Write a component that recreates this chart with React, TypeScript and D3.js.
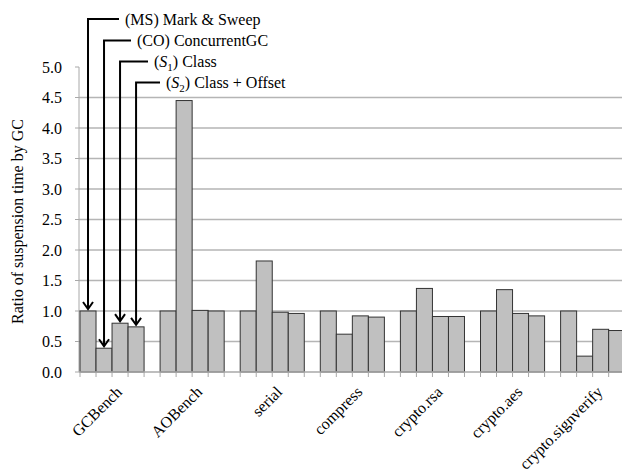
import React from "react";
import * as d3 from "d3";

const categories = ["GCBench", "AOBench", "serial", "compress", "crypto.rsa", "crypto.aes", "crypto.signverify"];
const seriesNames = ["MS", "CO", "S1", "S2"];
const valuesMS = [1.0, 1.0, 1.0, 1.0, 1.0, 1.0, 1.0];
const valuesCO = [0.39, 4.45, 1.82, 0.62, 1.37, 1.35, 0.26];
const valuesS1 = [0.80, 1.01, 0.98, 0.92, 0.91, 0.96, 0.70];
const valuesS2 = [0.74, 1.0, 0.96, 0.90, 0.91, 0.92, 0.68];
const yTicks = [0, 0.5, 1.0, 1.5, 2.0, 2.5, 3.0, 3.5, 4.0, 4.5, 5.0];
const annotations = [
  { main: "(MS) Mark & Sweep", sub: null, rest: "" },
  { main: "(CO) ConcurrentGC", sub: null, rest: "" },
  { main: "S", sub: "1", rest: ") Class" },
  { main: "S", sub: "2", rest: ") Class + Offset" },
];
const yLabel = "Ratio of suspension time by GC";

const W = 622;
const H = 473;
const FONT = "Liberation Serif";

export default function App() {
  const allSeries = [valuesMS, valuesCO, valuesS1, valuesS2];
  const x0 = d3.scaleBand<string>().domain(categories).range([80, 640.7]).padding(0);
  const slots = d3.scaleBand<number>().domain(d3.range(5)).range([0, x0.bandwidth()]);
  const x1 = d3.scaleBand<string>().domain(seriesNames).range([0, x0.bandwidth() * 0.8]);
  const y = d3.scaleLinear().domain([0, 5]).range([372, 67]);

  const slotEdges: number[] = [];
  categories.forEach((c) => {
    d3.range(5).forEach((i) => slotEdges.push((x0(c) as number) + (slots(i) as number)));
  });

  const annY = [19, 40.5, 61.5, 82.5];
  const annTextX = [125, 137, 154, 166];

  return (
    <div style={{ position: "absolute", left: 0, top: 0 }}>
      <svg width={W} height={H} style={{ display: "block" }} fontFamily={FONT}>
        <rect x={0} y={0} width={W} height={H} fill="#fff" />
        {yTicks.filter((t) => t > 0 && t < 5).map((t) => (
          <line key={"g" + t} x1={79} x2={W} y1={y(t)} y2={y(t)} stroke="#b5b5b5" strokeWidth={1.3} />
        ))}
        <line x1={79} x2={79} y1={y(5)} y2={y(0)} stroke="#a8a8a8" strokeWidth={1} />
        {yTicks.map((t) => (
          <g key={"t" + t}>
            <line x1={75} x2={79} y1={y(t)} y2={y(t)} stroke="#a8a8a8" strokeWidth={1} />
            <text x={62} y={y(t)} dy="0.35em" textAnchor="end" fontSize={16} fontFamily={FONT} fill="#000">
              {t.toFixed(1)}
            </text>
          </g>
        ))}
        <text
          transform={`translate(17, ${(y(0) + y(5)) / 2 + 2}) rotate(-90)`}
          textAnchor="middle"
          dy="0.35em"
          fontSize={16}
          fontFamily={FONT}
          fill="#000"
        >
          {yLabel}
        </text>
        {categories.map((c, ci) =>
          seriesNames.map((s, si) => {
            const v = allSeries[si][ci];
            const bx = (x0(c) as number) + (x1(s) as number);
            return (
              <rect
                key={c + s}
                x={bx}
                y={y(v)}
                width={x1.bandwidth()}
                height={y(0) - y(v)}
                fill="#c0c0c0"
                stroke="#333"
                strokeWidth={1}
              />
            );
          })
        )}
        <line x1={79} x2={W} y1={y(0)} y2={y(0)} stroke="#a8a8a8" strokeWidth={1.3} />
        {slotEdges.map((e, i) => (
          <line key={"xt" + i} x1={e} x2={e} y1={y(0)} y2={y(0) + 5} stroke="#a8a8a8" strokeWidth={1} />
        ))}
        {categories.map((c) => {
          const cx = (x0(c) as number) + x0.bandwidth() / 2 - 1;
          const cy = 389;
          return (
            <text
              key={"xl" + c}
              transform={`translate(${cx}, ${cy}) rotate(-45)`}
              textAnchor="end"
              dy="0.35em"
              fontSize={16}
              fontFamily={FONT}
              fill="#000"
            >
              {c}
            </text>
          );
        })}
        {seriesNames.map((s, si) => {
          const c = categories[0];
          const bx = (x0(c) as number) + (x1(s) as number) + x1.bandwidth() / 2;
          const top = y(allSeries[si][0]) - 2;
          const ly = annY[si];
          const tx = annTextX[si];
          const a = annotations[si];
          return (
            <g key={"ann" + s}>
              <path d={`M${tx - 6},${ly} H${bx} V${top}`} fill="none" stroke="#000" strokeWidth={2} />
              <path
                d={`M${bx - 5},${top - 7} L${bx},${top} L${bx + 5},${top - 7}`}
                fill="none"
                stroke="#000"
                strokeWidth={2}
              />
              <text x={tx} y={ly} dy="0.35em" fontSize={16} fontFamily={FONT} fill="#000">
                {a.sub ? (
                  <>
                    <tspan>(</tspan>
                    <tspan fontStyle="italic">{a.main}</tspan>
                    <tspan fontSize={11} dy="4">{a.sub}</tspan>
                    <tspan dy="-4">{a.rest}</tspan>
                  </>
                ) : (
                  a.main
                )}
              </text>
            </g>
          );
        })}
      </svg>
    </div>
  );
}
